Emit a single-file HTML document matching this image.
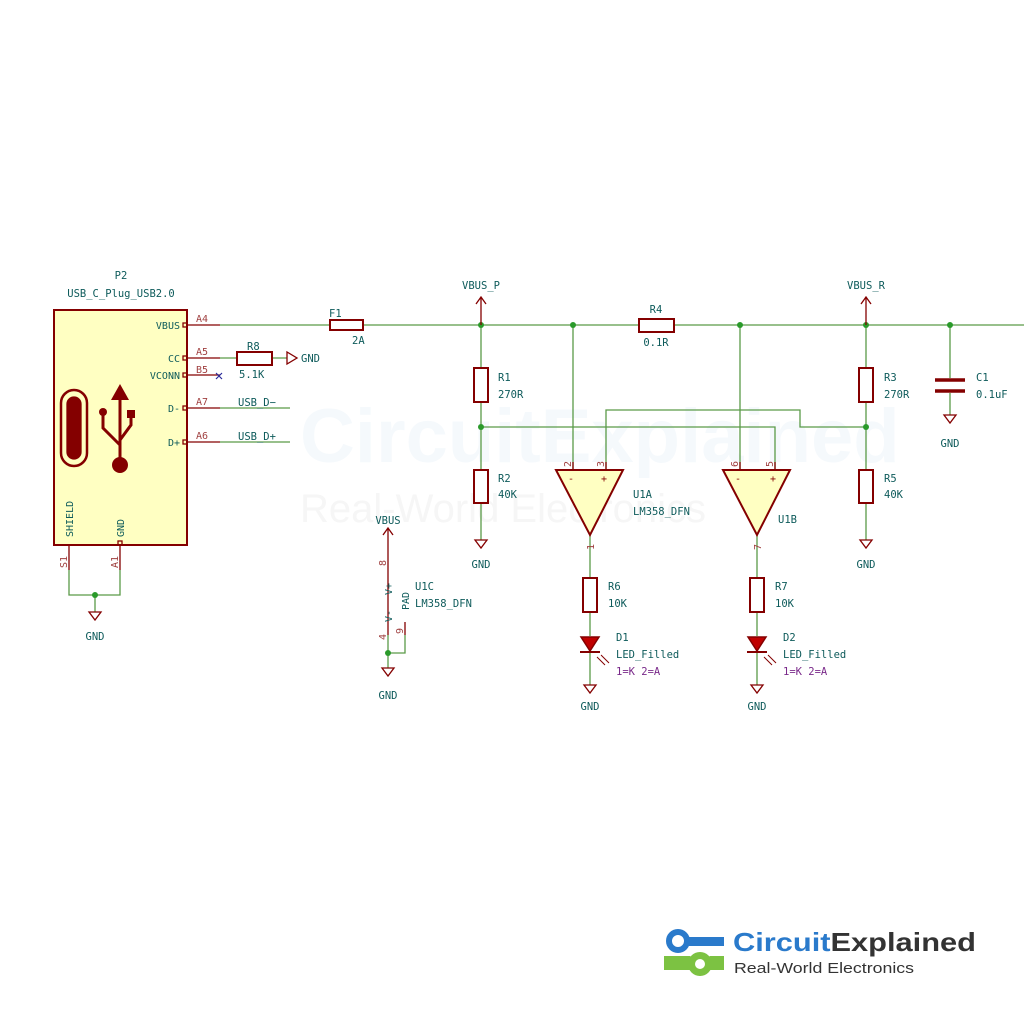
<!DOCTYPE html>
<html><head><style>
html,body{margin:0;padding:0;background:#fff;}
svg{display:block;}
text{font-family:"DejaVu Sans Mono","Liberation Mono",monospace;}
</style></head><body>
<svg width="1024" height="1024" viewBox="0 0 1024 1024" xmlns="http://www.w3.org/2000/svg">
<rect width="1024" height="1024" fill="#fff"/>
<!-- watermark -->
<text x="300" y="462" font-size="76" font-weight="bold" fill="#f5f9fc" style="font-family:'Liberation Sans',sans-serif">CircuitExplained</text>
<text x="300" y="522" font-size="40" fill="#f6f6f6" style="font-family:'Liberation Sans',sans-serif">Real-World Electronics</text>

<g fill="none" stroke="#5a9a48" stroke-width="1.3">
<path d="M220 325H330M363 325H639M674 325H1024"/>
<path d="M220 358H237M272 358H287"/>
<path d="M220 408H290M220 442H290"/>
<path d="M69 570V595H120V570M95 595V612"/>
<path d="M481 325V368M481 402V470M481 503V540"/>
<path d="M573 325V470M740 325V470"/>
<path d="M606 470V410H800V427H866"/>
<path d="M481 427H775V470"/>
<path d="M590 535V578M590 612V636M590 652V685"/>
<path d="M757 535V578M757 612V636M757 652V685"/>
<path d="M866 325V368M866 402V470M866 503V540"/>
<path d="M950 325V378M950 393V415"/>
<path d="M388 635V668M405 635V653H388"/>
</g>
<g fill="#2a9a2a">
<circle cx="95" cy="595" r="3"/><circle cx="481" cy="325" r="3"/><circle cx="573" cy="325" r="3"/>
<circle cx="740" cy="325" r="3"/><circle cx="866" cy="325" r="3"/><circle cx="950" cy="325" r="3"/>
<circle cx="481" cy="427" r="3"/><circle cx="866" cy="427" r="3"/><circle cx="388" cy="653" r="3"/>
</g>

<rect x="54" y="310" width="133" height="235" fill="#ffffc2" stroke="#840000" stroke-width="2"/>
<g stroke="#840000" stroke-width="1.3" fill="none">
<path d="M187 325H220M187 358H220M187 375H220M187 408H220M187 442H220M69 545V570M120 545V570"/>
<rect x="183" y="323" width="4" height="4"/><rect x="183" y="356" width="4" height="4"/><rect x="183" y="373" width="4" height="4"/><rect x="183" y="406" width="4" height="4"/><rect x="183" y="440" width="4" height="4"/><rect x="118" y="541" width="4" height="4"/>
<rect x="61" y="390" width="26" height="76" rx="13" stroke-width="2.5"/>
<rect x="67" y="397" width="14" height="62" rx="7" fill="#840000"/>
<path d="M120 400V463M120 445L103 428V412M120 440L131 425V416" stroke-width="3"/>
</g>
<g fill="#840000">
<path d="M120 384L111 400H129Z"/><circle cx="120" cy="465" r="8"/><circle cx="103" cy="412" r="4"/><rect x="127" y="410" width="8" height="8"/>
</g>
<g font-size="10" fill="#840000" stroke="none">
<text x="180" y="329" text-anchor="end" fill="#0e5b5b">VBUS</text>
<text x="180" y="362" text-anchor="end" fill="#0e5b5b">CC</text>
<text x="180" y="379" text-anchor="end" fill="#0e5b5b">VCONN</text>
<text x="180" y="412" text-anchor="end" fill="#0e5b5b">D-</text>
<text x="180" y="446" text-anchor="end" fill="#0e5b5b">D+</text>
<text x="196" y="322" fill="#a04040">A4</text><text x="196" y="355" fill="#a04040">A5</text>
<text x="196" y="373" fill="#a04040">B5</text><text x="196" y="405" fill="#a04040">A7</text><text x="196" y="439" fill="#a04040">A6</text>
<text transform="translate(73,537) rotate(-90)" fill="#0e5b5b">SHIELD</text>
<text transform="translate(124,537) rotate(-90)" fill="#0e5b5b">GND</text>
<text transform="translate(67,568) rotate(-90)" fill="#a04040">S1</text>
<text transform="translate(118,568) rotate(-90)" fill="#a04040">A1</text>
</g>
<path d="M216 373l6 6M222 373l-6 6" stroke="#2a2a9a" stroke-width="1.2"/>

<g stroke="#840000" stroke-width="2" fill="none">
<rect x="330" y="320" width="33" height="10"/>
<rect x="237" y="352" width="35" height="13"/>
<rect x="639" y="319" width="35" height="13"/>
<rect x="474" y="368" width="14" height="34"/><rect x="474" y="470" width="14" height="33"/>
<rect x="859" y="368" width="14" height="34"/><rect x="859" y="470" width="14" height="33"/>
<rect x="583" y="578" width="14" height="34"/><rect x="750" y="578" width="14" height="34"/>
<path d="M935 380H965M935 391H965" stroke-width="3.5"/>
<path d="M556 470H623L590 535Z" fill="#ffffc2"/>
<path d="M723 470H790L757 535Z" fill="#ffffc2"/>
</g>
<g fill="#c00000" stroke="#840000" stroke-width="1.5">
<path d="M581 637H599L590 651Z"/><path d="M748 637H766L757 651Z"/>
</g>
<path d="M580 652H600M747 652H767" stroke="#840000" stroke-width="2"/>
<g stroke="#840000" stroke-width="1" fill="none">
<path d="M597 657l8 8M601 655l8 8M764 657l8 8M768 655l8 8"/>
</g>
<g stroke="#840000" stroke-width="1.3" fill="none">
<path d="M573 470V462M606 470V462M740 470V462M775 470V462"/>
<path d="M388 550V635M405 622V635"/>
</g>
<g font-size="10" fill="#a04040">
<text transform="translate(571,467) rotate(-90)">2</text><text transform="translate(604,467) rotate(-90)">3</text>
<text transform="translate(738,467) rotate(-90)">6</text><text transform="translate(773,467) rotate(-90)">5</text>
<text transform="translate(594,550) rotate(-90)">1</text><text transform="translate(761,550) rotate(-90)">7</text>
<text transform="translate(386,566) rotate(-90)">8</text><text transform="translate(386,640) rotate(-90)">4</text>
<text transform="translate(403,634) rotate(-90)">9</text>
</g>
<g font-size="10" fill="#840000">
<text x="568" y="482">-</text><text x="601" y="482">+</text>
<text x="735" y="482">-</text><text x="770" y="482">+</text>
</g>
<g font-size="10" fill="#0e5b5b">
<text transform="translate(392,595) rotate(-90)">V+</text>
<text transform="translate(392,622) rotate(-90)">V-</text>
<text transform="translate(409,610) rotate(-90)">PAD</text>
</g>

<g stroke="#840000" stroke-width="1.3" fill="none">
<path d="M481 325V297M476 304L481 297L486 304"/>
<path d="M866 325V297M861 304L866 297L871 304"/>
<path d="M388 550V528M383 535L388 528L393 535"/>
<path d="M287 352V364L297 358Z"/>
<path d="M89 612H101L95 620ZM475 540H487L481 548ZM860 540H872L866 548ZM944 415H956L950 423ZM584 685H596L590 693ZM751 685H763L757 693ZM382 668H394L388 676Z"/>
</g>

<g font-size="10.5" fill="#0e5b5b">
<text x="121" y="279" text-anchor="middle">P2</text>
<text x="121" y="297" text-anchor="middle">USB_C_Plug_USB2.0</text>
<text x="329" y="317">F1</text><text x="352" y="344">2A</text>
<text x="247" y="350">R8</text><text x="239" y="378">5.1K</text><text x="301" y="362">GND</text>
<text x="238" y="406">USB_D−</text><text x="238" y="440">USB_D+</text>
<text x="95" y="640" text-anchor="middle">GND</text>
<text x="481" y="289" text-anchor="middle">VBUS_P</text>
<text x="866" y="289" text-anchor="middle">VBUS_R</text>
<text x="656" y="313" text-anchor="middle">R4</text><text x="656" y="346" text-anchor="middle">0.1R</text>
<text x="498" y="381">R1</text><text x="498" y="398">270R</text>
<text x="498" y="482">R2</text><text x="498" y="498">40K</text>
<text x="481" y="568" text-anchor="middle">GND</text>
<text x="884" y="381">R3</text><text x="884" y="398">270R</text>
<text x="884" y="482">R5</text><text x="884" y="498">40K</text>
<text x="866" y="568" text-anchor="middle">GND</text>
<text x="976" y="381">C1</text><text x="976" y="398">0.1uF</text>
<text x="950" y="447" text-anchor="middle">GND</text>
<text x="633" y="498">U1A</text><text x="633" y="515">LM358_DFN</text>
<text x="778" y="523">U1B</text>
<text x="388" y="524" text-anchor="middle">VBUS</text>
<text x="415" y="590">U1C</text><text x="415" y="607">LM358_DFN</text>
<text x="388" y="699" text-anchor="middle">GND</text>
<text x="608" y="590">R6</text><text x="608" y="607">10K</text>
<text x="775" y="590">R7</text><text x="775" y="607">10K</text>
<text x="616" y="641">D1</text><text x="616" y="658">LED_Filled</text>
<text x="783" y="641">D2</text><text x="783" y="658">LED_Filled</text>
<text x="590" y="710" text-anchor="middle">GND</text><text x="757" y="710" text-anchor="middle">GND</text>
</g>
<g font-size="10.5" fill="#7a2a8a">
<text x="616" y="675">1=K 2=A</text><text x="783" y="675">1=K 2=A</text>
</g>

<g>
<circle cx="678" cy="941" r="9" fill="none" stroke="#2a7acb" stroke-width="6"/>
<rect x="689" y="937" width="35" height="9" fill="#2a7acb"/>
<path d="M664 956H690L700 962L710 956H724V970H710L700 976L690 970H664Z" fill="#7cc242"/>
<circle cx="700" cy="964" r="12" fill="#7cc242"/><circle cx="700" cy="964" r="5" fill="#fff"/>
<text x="733" y="951" font-size="26" font-weight="bold" fill="#2a7acb" textLength="243" lengthAdjust="spacingAndGlyphs" style="font-family:'Liberation Sans',sans-serif">Circuit<tspan fill="#333">Explained</tspan></text>
<text x="734" y="973" font-size="14.5" fill="#333" textLength="180" lengthAdjust="spacingAndGlyphs" style="font-family:'Liberation Sans',sans-serif">Real-World Electronics</text>
</g>
</svg>
</body></html>
